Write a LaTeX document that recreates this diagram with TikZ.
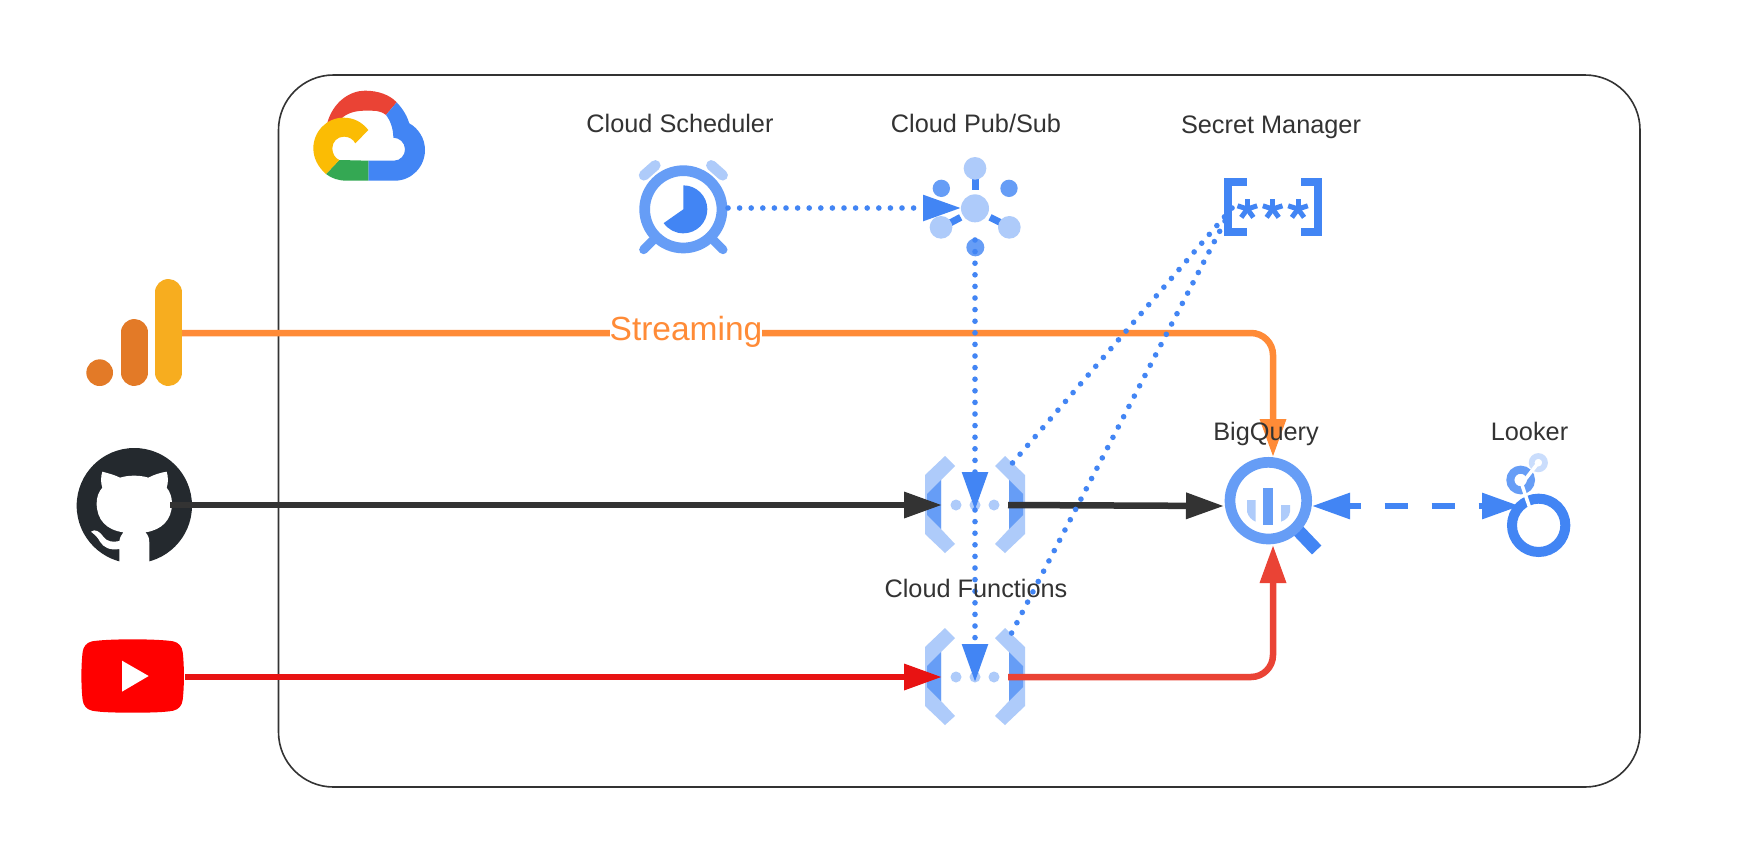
\documentclass[tikz,border=0pt]{standalone}
\usepackage{fontspec}
\setmainfont{Liberation Sans}
\usetikzlibrary{arrows.meta}
\definecolor{gl}{HTML}{AECBFA}
\definecolor{gm}{HTML}{669DF6}
\definecolor{gd}{HTML}{4285F4}
\definecolor{gred}{HTML}{EA4335}
\definecolor{gyel}{HTML}{FBBC04}
\definecolor{ggrn}{HTML}{34A853}
\definecolor{txt}{HTML}{333333}
\definecolor{org}{HTML}{FF8B37}
\definecolor{ytred}{HTML}{E81313}
\definecolor{ghub}{HTML}{24292E}
\definecolor{gayel}{HTML}{F7AD1F}
\definecolor{gaorg}{HTML}{E37A27}
\tikzset{
  lbl/.style={anchor=base,text=txt,font=\fontsize{25.3}{30}\selectfont,inner sep=0pt},
  conn/.style={line width=6.5pt},
  headb/.style={-{Triangle[length=38pt,width=25pt]}},
  dots/.style={line width=5.6pt,line cap=round,color=gd,dash pattern=on 0pt off 11.6pt},
  zoomed/.style={shift={#1},x=0.33333pt,y=-0.33333pt},
  fnicon/.pic={
    \foreach \s in {1,-1}{
      \fill[gl] (\s*-30,-49)--(\s*-50,-30)--(\s*-50,29)--(\s*-30,48)--(\s*-20,39)--(\s*-34,24)--(\s*-34,-25)--(\s*-20,-39)--cycle;
      \fill[gm] (\s*-34,-25)--(\s*-48,-11)--(\s*-48,10)--(\s*-34,24)--cycle;
    }
    \fill[gl] (-19,0) circle[radius=5.5] (0,0) circle[radius=5.5] (19,0) circle[radius=5.5];
  }
}
\begin{document}
\begin{tikzpicture}[x=1pt,y=-1pt]
\useasboundingbox (0,0) rectangle (1746,863);
\fill[white] (0,0) rectangle (1746,863);
% frame
\draw[line width=1.6pt,txt,rounded corners=55pt] (278.5,75) rectangle (1640,787);
% Google Cloud logo
\begin{scope}[zoomed={(280,70)}]
  \fill[gred] (142,158) .. controls (160,95) and (210,62) .. (255,62) .. controls (295,62) and (330,75) .. (350,97) -- (318,135) .. controls (300,120) and (280,122) .. (255,122) .. controls (225,122) and (200,130) .. (185,145) -- cycle;
  \fill[gd] (265,332) -- (265,272) -- (342,272) .. controls (362,272) and (375,255) .. (375,238) .. controls (375,218) and (358,203) .. (340,203) .. controls (340,175) and (330,150) .. (318,135) -- (350,97) .. controls (370,118) and (382,140) .. (388,160) .. controls (415,175) and (435,205) .. (435,240) .. controls (435,290) and (395,332) .. (345,332) -- cycle;
  \fill[ggrn] (138,312) -- (178,270) -- (265,272) -- (265,332) -- (200,332) .. controls (175,332) and (155,325) .. (138,312) -- cycle;
  \fill[gyel] (265,180) .. controls (245,155) and (220,143) .. (190,143) .. controls (140,143) and (100,185) .. (100,235) .. controls (100,265) and (115,292) .. (138,312) -- (178,270) .. controls (165,265) and (157,250) .. (157,235) .. controls (157,215) and (172,200) .. (192,200) .. controls (207,200) and (220,208) .. (226,220) -- cycle;
\end{scope}
% Cloud Scheduler icon
\begin{scope}[zoomed={(280,70)}]
  \draw[gl,line width=10.5pt,line cap=round] (1092,316)--(1126,286) (1328,316)--(1294,286);
  \draw[gm,line width=9pt,line cap=round] (1091,539)--(1118,512) (1329,539)--(1302,512);
  \draw[gm,line width=10.7pt] (1210,418) circle[radius=116];
  \fill[gd] (1210,418) -- (1210,346) arc[start angle=-90,end angle=145,radius=72] -- cycle;
\end{scope}
% Pub/Sub icon
\begin{scope}[zoomed={(880,90)}]
  \fill[gd] (275,268) rectangle (296,300);
  \draw[gd,line width=7pt] (212,398)--(242,382) (330,382)--(362,398);
  \fill[gl] (285,355) circle[radius=42] (285,235) circle[radius=34] (183,412) circle[radius=34] (388,412) circle[radius=34];
  \fill[gm] (184,295) circle[radius=26] (387,295) circle[radius=26] (286,472) circle[radius=27];
\end{scope}
% Secret Manager icon
\begin{scope}[zoomed={(880,90)}]
  \draw[gd,line width=8pt] (1100,277)--(1045,277)--(1045,427)--(1100,427);
  \draw[gd,line width=8pt] (1263,277)--(1313,277)--(1313,427)--(1263,427);
  \foreach \c in {1102,1178,1254}{
    \foreach \a in {-90,-18,54,126,198}{
      \draw[gd,line width=5pt] (\c,357) -- ++({\a}:31);
    }
  }
\end{scope}
% Cloud Functions icons
\path (975,505) pic {fnicon};
\path (975,677) pic {fnicon};
% BigQuery icon
\begin{scope}[zoomed={(1190,410)}]
  \draw[gd,line width=13pt] (318,355)--(380,420);
  \fill[white] (235,272) circle[radius=100];
  \draw[gm,line width=10.7pt] (235,272) circle[radius=115];
  \fill[gm] (219,234) rectangle (248,345);
  \fill[gl] (171,270) -- (197,270) -- (197,335) .. controls (185,330) and (175,320) .. (171,305) -- cycle;
  \fill[gl] (273,285) -- (300,285) -- (300,305) .. controls (298,320) and (288,330) .. (273,335) -- cycle;
\end{scope}
% Looker icon
\begin{scope}[zoomed={(1190,410)}]
  \draw[gd,line width=10pt] (1046,346) circle[radius=80];
  \draw[gm,line width=8pt] (992,210) circle[radius=31];
  \draw[gl!65,line width=5.7pt] (1045,158) circle[radius=20];
  \draw[white,line width=3.5pt] (1045,158)--(995,222)--(1018,290);
\end{scope}
% GA icon
\begin{scope}[zoomed={(60,260)}]
  \draw[gayel,line width=26.6pt,line cap=round] (325,97)--(325,338);
  \draw[gaorg,line width=26.6pt,line cap=round] (223,217)--(223,338);
  \fill[gaorg] (119,338) circle[radius=40];
\end{scope}
% GitHub icon
\begin{scope}[zoomed={(60,260)}]
  \begin{scope}
    \clip (0,0) rectangle (600,905);
    \fill[ghub] (223,737) circle[radius=173];
  \end{scope}
  \fill[white] (127,635) .. controls (145,640) and (165,645) .. (180,653) .. controls (205,645) and (240,645) .. (265,653) .. controls (280,645) and (300,638) .. (320,635) .. controls (325,650) and (325,670) .. (320,683) .. controls (330,695) and (336,712) .. (336,730) .. controls (336,780) and (305,810) .. (256,817) .. controls (265,825) and (268,835) .. (268,850) -- (268,906) -- (178,906) -- (178,867) .. controls (150,872) and (130,862) .. (120,845) .. controls (112,830) and (105,825) .. (93,815) .. controls (105,805) and (120,815) .. (130,830) .. controls (140,845) and (160,848) .. (178,843) .. controls (180,832) and (184,824) .. (190,817) .. controls (140,810) and (110,780) .. (110,730) .. controls (110,712) and (116,695) .. (127,683) .. controls (122,670) and (122,650) .. (127,635) -- cycle;
\end{scope}
% YouTube icon
\begin{scope}[zoomed={(60,260)}]
  \fill[red] (218,1138) .. controls (270,1138) and (315,1140) .. (340,1144) .. controls (357,1148) and (366,1160) .. (368,1176) .. controls (373,1215) and (373,1280) .. (368,1320) .. controls (366,1336) and (357,1348) .. (340,1352) .. controls (315,1357) and (270,1358) .. (218,1358) .. controls (166,1358) and (121,1357) .. (96,1352) .. controls (79,1348) and (70,1336) .. (68,1320) .. controls (63,1280) and (63,1215) .. (68,1176) .. controls (70,1160) and (79,1148) .. (96,1144) .. controls (121,1140) and (166,1138) .. (218,1138) -- cycle;
  \fill[white] (186,1202)--(266,1248)--(186,1295)--cycle;
\end{scope}
% connector ends
\coordinate (ga) at (182,333);
\coordinate (gh) at (170,505);
\coordinate (yt) at (185,677);
\coordinate (fnAin) at (942,505);
\coordinate (fnAout) at (1008,505);
\coordinate (fnBin) at (942,677);
\coordinate (fnBout) at (1008,677);
\coordinate (fnAtop) at (975,510);
\coordinate (fnBtop) at (975,682);
\coordinate (fnAr) at (1009,467);
\coordinate (fnBr) at (1009,638);
\coordinate (sched) at (728,208);
\coordinate (psin) at (961,208);
\coordinate (psout) at (975,240);
\coordinate (secA) at (1232,208);
\coordinate (secB) at (1225,221);
\coordinate (bqtop) at (1273,457);
\coordinate (bqleft) at (1224,506);
\coordinate (bqbot) at (1273,545);
\coordinate (bqright) at (1312,506);
\coordinate (look) at (1520,506);
% connectors
\draw[conn,org,headb,rounded corners=22pt] (ga) -| (bqtop);
\draw[conn,txt,headb] (gh) -- (fnAin);
\draw[conn,txt,headb] (fnAout) -- (bqleft);
\draw[conn,ytred,headb] (yt) -- (fnBin);
\draw[conn,gred,headb,rounded corners=22pt] (fnBout) -| (bqbot);
\draw[dots,headb] (sched) -- (psin);
\draw[dots,headb] (psout) -- (fnAtop);
\draw[dots,headb] (fnAtop) -- (fnBtop);
\draw[dots] (secA) -- (fnAr);
\draw[dots] (secB) -- (fnBr);
\draw[line width=6pt,gd,{Triangle[length=38pt,width=25pt]}-{Triangle[length=38pt,width=25pt]},dash pattern=on 23pt off 24pt,dash phase=11pt] (bqright) -- (look);
% labels
\node[lbl,text=org,font=\fontsize{33.5}{36}\selectfont,fill=white] (stream) at (686,340) {Streaming};
\node[lbl] (lsched) at (680,132) {Cloud Scheduler};
\node[lbl] (lpub) at (976,132) {Cloud Pub/Sub};
\node[lbl] (lsec) at (1271,133) {Secret Manager};
\node[lbl] (lbq) at (1266,440) {BigQuery};
\node[lbl] (llook) at (1529.5,440) {Looker};
\node[lbl] (lfn) at (976,597) {Cloud Functions};
\end{tikzpicture}
\end{document}
